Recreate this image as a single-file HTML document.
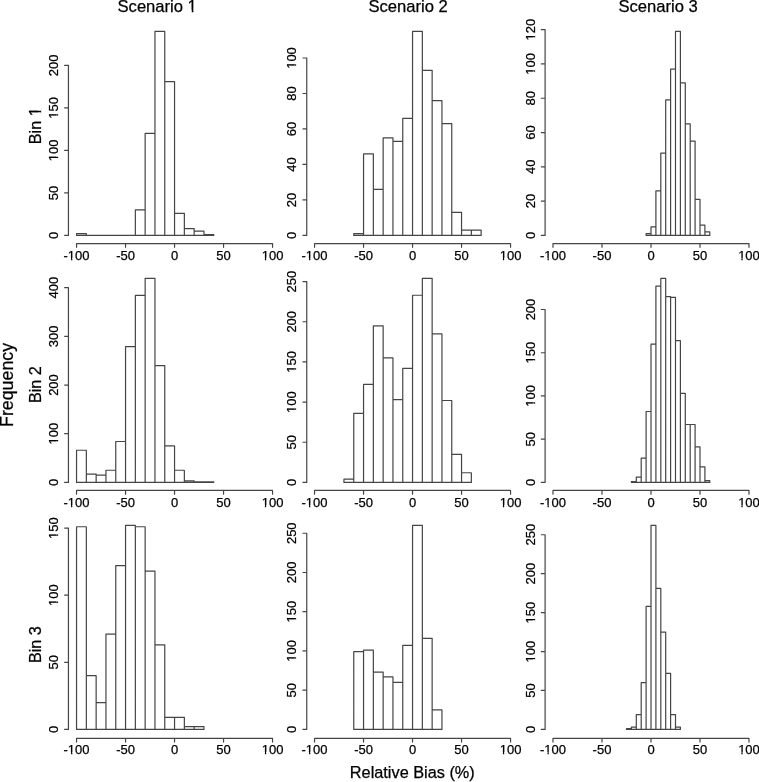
<!DOCTYPE html>
<html><head><meta charset="utf-8"><style>
html,body{margin:0;padding:0;background:#fff;width:759px;height:782px;overflow:hidden}
svg{display:block;will-change:transform}
text{font-family:"Liberation Sans",sans-serif;fill:#000;text-anchor:middle;stroke:#000;stroke-width:0.25px}
.t{font-size:13.0px}
.ti{font-size:16.6px}
.bn{font-size:16.2px}
.fq{font-size:17.8px}
.rb{font-size:16.3px}
.m{fill:#fff}
path{fill:none;stroke:#454545;stroke-width:1.2;stroke-linecap:round;stroke-linejoin:round}
</style></head><body>
<svg width="759" height="782" viewBox="0 0 759 782">
<rect width="759" height="782" fill="#fff"/>
<path d="M76.55 235.4H86.35V233.7H76.55ZM86.35 235.4H96.15V235.4H86.35ZM96.15 235.4H105.95V235.4H96.15ZM105.95 235.4H115.75V235.4H105.95ZM115.75 235.4H125.55V235.4H115.75ZM125.55 235.4H135.35V235.4H125.55ZM135.35 235.4H145.15V209.9H135.35ZM145.15 235.4H154.95V133.4H145.15ZM154.95 235.4H164.75V31.4H154.95ZM164.75 235.4H174.55V81.55H164.75ZM174.55 235.4H184.35V213.3H174.55ZM184.35 235.4H194.15V228.6H184.35ZM194.15 235.4H203.95V231.15H194.15ZM203.95 235.4H213.75V234.55H203.95Z"/>
<path d="M76.55 243.55H272.55M76.55 243.55v3.8M125.55 243.55v3.8M174.55 243.55v3.8M223.55 243.55v3.8M272.55 243.55v3.8M68.45 235.4V65.4M68.45 235.4h-3.8M68.45 192.9h-3.8M68.45 150.4h-3.8M68.45 107.9h-3.8M68.45 65.4h-3.8"/>
<text class="t" x="76.55" y="260">-100</text>
<text class="t" x="125.55" y="260">-50</text>
<text class="t" x="174.55" y="260">0</text>
<text class="t" x="223.55" y="260">50</text>
<text class="t" x="272.55" y="260">100</text>
<text class="t" transform="translate(58.05 235.4) rotate(-90)">0</text>
<text class="t" transform="translate(58.05 192.9) rotate(-90)">50</text>
<text class="t" transform="translate(58.05 150.4) rotate(-90)">100</text>
<text class="t" transform="translate(58.05 107.9) rotate(-90)">150</text>
<text class="t" transform="translate(58.05 65.4) rotate(-90)">200</text>
<path d="M353.75 235.4H363.55V233.63H353.75ZM363.55 235.4H373.35V153.8H363.55ZM373.35 235.4H383.15V189.28H373.35ZM383.15 235.4H392.95V137.83H383.15ZM392.95 235.4H402.75V141.38H392.95ZM402.75 235.4H412.55V118.32H402.75ZM412.55 235.4H422.35V31.4H412.55ZM422.35 235.4H432.15V70.43H422.35ZM432.15 235.4H441.95V100.58H432.15ZM441.95 235.4H451.75V123.64H441.95ZM451.75 235.4H461.55V212.34H451.75ZM461.55 235.4H471.35V230.08H461.55ZM471.35 235.4H481.15V230.08H471.35Z"/>
<path d="M314.55 243.55H510.55M314.55 243.55v3.8M363.55 243.55v3.8M412.55 243.55v3.8M461.55 243.55v3.8M510.55 243.55v3.8M306.75 235.4V58.01M306.75 235.4h-3.8M306.75 199.92h-3.8M306.75 164.44h-3.8M306.75 128.97h-3.8M306.75 93.49h-3.8M306.75 58.01h-3.8"/>
<text class="t" x="314.55" y="260">-100</text>
<text class="t" x="363.55" y="260">-50</text>
<text class="t" x="412.55" y="260">0</text>
<text class="t" x="461.55" y="260">50</text>
<text class="t" x="510.55" y="260">100</text>
<text class="t" transform="translate(296.35 235.4) rotate(-90)">0</text>
<text class="t" transform="translate(296.35 199.92) rotate(-90)">20</text>
<text class="t" transform="translate(296.35 164.44) rotate(-90)">40</text>
<text class="t" transform="translate(296.35 128.97) rotate(-90)">60</text>
<text class="t" transform="translate(296.35 93.49) rotate(-90)">80</text>
<text class="t" transform="translate(296.35 58.01) rotate(-90)">100</text>
<path d="M646.1 235.4H651V233.69H646.1ZM651 235.4H655.9V226.83H651ZM655.9 235.4H660.8V190.83H655.9ZM660.8 235.4H665.7V153.11H660.8ZM665.7 235.4H670.6V99.97H665.7ZM670.6 235.4H675.5V69.11H670.6ZM675.5 235.4H680.4V31.4H675.5ZM680.4 235.4H685.3V82.83H680.4ZM685.3 235.4H690.2V123.97H685.3ZM690.2 235.4H695.1V141.11H690.2ZM695.1 235.4H700V199.4H695.1ZM700 235.4H704.9V225.11H700ZM704.9 235.4H709.8V231.97H704.9Z"/>
<path d="M553 243.55H749M553 243.55v3.8M602 243.55v3.8M651 243.55v3.8M700 243.55v3.8M749 243.55v3.8M545.1 235.4V29.69M545.1 235.4h-3.8M545.1 201.11h-3.8M545.1 166.83h-3.8M545.1 132.54h-3.8M545.1 98.26h-3.8M545.1 63.97h-3.8M545.1 29.69h-3.8"/>
<text class="t" x="553" y="260">-100</text>
<text class="t" x="602" y="260">-50</text>
<text class="t" x="651" y="260">0</text>
<text class="t" x="700" y="260">50</text>
<text class="t" x="749" y="260">100</text>
<text class="t" transform="translate(534.7 235.4) rotate(-90)">0</text>
<text class="t" transform="translate(534.7 201.11) rotate(-90)">20</text>
<text class="t" transform="translate(534.7 166.83) rotate(-90)">40</text>
<text class="t" transform="translate(534.7 132.54) rotate(-90)">60</text>
<text class="t" transform="translate(534.7 98.26) rotate(-90)">80</text>
<text class="t" transform="translate(534.7 63.97) rotate(-90)">100</text>
<text class="t" transform="translate(534.7 29.69) rotate(-90)">120</text>
<path d="M76.55 482.4H86.35V450.27H76.55ZM86.35 482.4H96.15V474.12H86.35ZM96.15 482.4H105.95V475.1H96.15ZM105.95 482.4H115.75V470.23H105.95ZM115.75 482.4H125.55V441.5H115.75ZM125.55 482.4H135.35V346.56H125.55ZM135.35 482.4H145.15V295.44H135.35ZM145.15 482.4H154.95V278.4H145.15ZM154.95 482.4H164.75V365.55H154.95ZM164.75 482.4H174.55V445.88H164.75ZM174.55 482.4H184.35V470.23H174.55ZM184.35 482.4H194.15V480.94H184.35ZM194.15 482.4H203.95V481.91H194.15ZM203.95 482.4H213.75V481.91H203.95Z"/>
<path d="M76.55 490.45H272.55M76.55 490.45v3.8M125.55 490.45v3.8M174.55 490.45v3.8M223.55 490.45v3.8M272.55 490.45v3.8M68.45 482.4V287.65M68.45 482.4h-3.8M68.45 433.71h-3.8M68.45 385.03h-3.8M68.45 336.34h-3.8M68.45 287.65h-3.8"/>
<text class="t" x="76.55" y="507">-100</text>
<text class="t" x="125.55" y="507">-50</text>
<text class="t" x="174.55" y="507">0</text>
<text class="t" x="223.55" y="507">50</text>
<text class="t" x="272.55" y="507">100</text>
<text class="t" transform="translate(58.05 482.4) rotate(-90)">0</text>
<text class="t" transform="translate(58.05 433.71) rotate(-90)">100</text>
<text class="t" transform="translate(58.05 385.03) rotate(-90)">200</text>
<text class="t" transform="translate(58.05 336.34) rotate(-90)">300</text>
<text class="t" transform="translate(58.05 287.65) rotate(-90)">400</text>
<path d="M343.95 482.4H353.75V479.19H343.95ZM353.75 482.4H363.55V413.33H353.75ZM363.55 482.4H373.35V384.42H363.55ZM373.35 482.4H383.15V325.79H373.35ZM383.15 482.4H392.95V357.91H383.15ZM392.95 482.4H402.75V399.68H392.95ZM402.75 482.4H412.55V368.35H402.75ZM412.55 482.4H422.35V295.27H412.55ZM422.35 482.4H432.15V278.4H422.35ZM432.15 482.4H441.95V333.82H432.15ZM441.95 482.4H451.75V400.48H441.95ZM451.75 482.4H461.55V454.29H451.75ZM461.55 482.4H471.35V472.76H461.55Z"/>
<path d="M314.55 490.45H510.55M314.55 490.45v3.8M363.55 490.45v3.8M412.55 490.45v3.8M461.55 490.45v3.8M510.55 490.45v3.8M306.75 482.4V281.61M306.75 482.4h-3.8M306.75 442.24h-3.8M306.75 402.09h-3.8M306.75 361.93h-3.8M306.75 321.77h-3.8M306.75 281.61h-3.8"/>
<text class="t" x="314.55" y="507">-100</text>
<text class="t" x="363.55" y="507">-50</text>
<text class="t" x="412.55" y="507">0</text>
<text class="t" x="461.55" y="507">50</text>
<text class="t" x="510.55" y="507">100</text>
<text class="t" transform="translate(296.35 482.4) rotate(-90)">0</text>
<text class="t" transform="translate(296.35 442.24) rotate(-90)">50</text>
<text class="t" transform="translate(296.35 402.09) rotate(-90)">100</text>
<text class="t" transform="translate(296.35 361.93) rotate(-90)">150</text>
<text class="t" transform="translate(296.35 321.77) rotate(-90)">200</text>
<text class="t" transform="translate(296.35 281.61) rotate(-90)">250</text>
<path d="M631.4 482.4H636.3V481.54H631.4ZM636.3 482.4H641.2V477.21H636.3ZM641.2 482.4H646.1V458.2H641.2ZM646.1 482.4H651V411.52H646.1ZM651 482.4H655.9V344.09H651ZM655.9 482.4H660.8V286.18H655.9ZM660.8 482.4H665.7V278.4H660.8ZM665.7 482.4H670.6V296.55H665.7ZM670.6 482.4H675.5V297.42H670.6ZM675.5 482.4H680.4V340.64H675.5ZM680.4 482.4H685.3V393.37H680.4ZM685.3 482.4H690.2V424.48H685.3ZM690.2 482.4H695.1V424.48H690.2ZM695.1 482.4H700V446.96H695.1ZM700 482.4H704.9V466.84H700ZM704.9 482.4H709.8V480.67H704.9Z"/>
<path d="M553 490.45H749M553 490.45v3.8M602 490.45v3.8M651 490.45v3.8M700 490.45v3.8M749 490.45v3.8M545.1 482.4V309.52M545.1 482.4h-3.8M545.1 439.18h-3.8M545.1 395.96h-3.8M545.1 352.74h-3.8M545.1 309.52h-3.8"/>
<text class="t" x="553" y="507">-100</text>
<text class="t" x="602" y="507">-50</text>
<text class="t" x="651" y="507">0</text>
<text class="t" x="700" y="507">50</text>
<text class="t" x="749" y="507">100</text>
<text class="t" transform="translate(534.7 482.4) rotate(-90)">0</text>
<text class="t" transform="translate(534.7 439.18) rotate(-90)">50</text>
<text class="t" transform="translate(534.7 395.96) rotate(-90)">100</text>
<text class="t" transform="translate(534.7 352.74) rotate(-90)">150</text>
<text class="t" transform="translate(534.7 309.52) rotate(-90)">200</text>
<path d="M76.55 729.4H86.35V526.74H76.55ZM86.35 729.4H96.15V675.72H86.35ZM96.15 729.4H105.95V702.56H96.15ZM105.95 729.4H115.75V634.11H105.95ZM115.75 729.4H125.55V565.66H115.75ZM125.55 729.4H135.35V525.4H125.55ZM135.35 729.4H145.15V526.74H135.35ZM145.15 729.4H154.95V571.03H145.15ZM154.95 729.4H164.75V644.85H154.95ZM164.75 729.4H174.55V717.32H164.75ZM174.55 729.4H184.35V717.32H174.55ZM184.35 729.4H194.15V726.72H184.35ZM194.15 729.4H203.95V726.72H194.15Z"/>
<path d="M76.55 738.3H272.55M76.55 738.3v3.8M125.55 738.3v3.8M174.55 738.3v3.8M223.55 738.3v3.8M272.55 738.3v3.8M68.45 729.4V528.08M68.45 729.4h-3.8M68.45 662.29h-3.8M68.45 595.19h-3.8M68.45 528.08h-3.8"/>
<text class="t" x="76.55" y="754">-100</text>
<text class="t" x="125.55" y="754">-50</text>
<text class="t" x="174.55" y="754">0</text>
<text class="t" x="223.55" y="754">50</text>
<text class="t" x="272.55" y="754">100</text>
<text class="t" transform="translate(58.05 729.4) rotate(-90)">0</text>
<text class="t" transform="translate(58.05 662.29) rotate(-90)">50</text>
<text class="t" transform="translate(58.05 595.19) rotate(-90)">100</text>
<text class="t" transform="translate(58.05 528.08) rotate(-90)">150</text>
<path d="M353.75 729.4H363.55V651.72H353.75ZM363.55 729.4H373.35V650.15H363.55ZM373.35 729.4H383.15V672.12H373.35ZM383.15 729.4H392.95V676.83H383.15ZM392.95 729.4H402.75V682.32H392.95ZM402.75 729.4H412.55V645.45H402.75ZM412.55 729.4H422.35V525.4H412.55ZM422.35 729.4H432.15V638.38H422.35ZM432.15 729.4H441.95V709.78H432.15Z"/>
<path d="M314.55 738.3H510.55M314.55 738.3v3.8M363.55 738.3v3.8M412.55 738.3v3.8M461.55 738.3v3.8M510.55 738.3v3.8M306.75 729.4V533.25M306.75 729.4h-3.8M306.75 690.17h-3.8M306.75 650.94h-3.8M306.75 611.71h-3.8M306.75 572.48h-3.8M306.75 533.25h-3.8"/>
<text class="t" x="314.55" y="754">-100</text>
<text class="t" x="363.55" y="754">-50</text>
<text class="t" x="412.55" y="754">0</text>
<text class="t" x="461.55" y="754">50</text>
<text class="t" x="510.55" y="754">100</text>
<text class="t" transform="translate(296.35 729.4) rotate(-90)">0</text>
<text class="t" transform="translate(296.35 690.17) rotate(-90)">50</text>
<text class="t" transform="translate(296.35 650.94) rotate(-90)">100</text>
<text class="t" transform="translate(296.35 611.71) rotate(-90)">150</text>
<text class="t" transform="translate(296.35 572.48) rotate(-90)">200</text>
<text class="t" transform="translate(296.35 533.25) rotate(-90)">250</text>
<path d="M626.5 729.4H631.4V728.62H626.5ZM631.4 729.4H636.3V727.06H631.4ZM636.3 729.4H641.2V714.61H636.3ZM641.2 729.4H646.1V682.68H641.2ZM646.1 729.4H651V606.38H646.1ZM651 729.4H655.9V525.4H651ZM655.9 729.4H660.8V588.47H655.9ZM660.8 729.4H665.7V632.07H660.8ZM665.7 729.4H670.6V673.34H665.7ZM670.6 729.4H675.5V714.61H670.6ZM675.5 729.4H680.4V727.06H675.5Z"/>
<path d="M553 738.3H749M553 738.3v3.8M602 738.3v3.8M651 738.3v3.8M700 738.3v3.8M749 738.3v3.8M545.1 729.4V534.74M545.1 729.4h-3.8M545.1 690.47h-3.8M545.1 651.54h-3.8M545.1 612.61h-3.8M545.1 573.67h-3.8M545.1 534.74h-3.8"/>
<text class="t" x="553" y="754">-100</text>
<text class="t" x="602" y="754">-50</text>
<text class="t" x="651" y="754">0</text>
<text class="t" x="700" y="754">50</text>
<text class="t" x="749" y="754">100</text>
<text class="t" transform="translate(534.7 729.4) rotate(-90)">0</text>
<text class="t" transform="translate(534.7 690.47) rotate(-90)">50</text>
<text class="t" transform="translate(534.7 651.54) rotate(-90)">100</text>
<text class="t" transform="translate(534.7 612.61) rotate(-90)">150</text>
<text class="t" transform="translate(534.7 573.67) rotate(-90)">200</text>
<text class="t" transform="translate(534.7 534.74) rotate(-90)">250</text>
<text class="ti" x="157.2" y="12">Scenario 1</text>
<text class="bn" transform="translate(40.5 125.8) rotate(-90)">Bin 1</text>
<text class="ti" x="408.1" y="12">Scenario 2</text>
<text class="bn" transform="translate(40.5 384.6) rotate(-90)">Bin 2</text>
<text class="ti" x="658.1" y="12">Scenario 3</text>
<text class="bn" transform="translate(40.5 644.6) rotate(-90)">Bin 3</text>
<text class="fq" transform="translate(12.8 384.95) rotate(-90)">Frequency</text>
<text class="rb" x="412.3" y="778.4">Relative Bias (%)</text>
<rect class="m" x="68" y="258.13" width="3.07" height="2.87"/>
<rect class="m" x="72.36" y="258.13" width="2.68" height="2.87"/>
<rect class="m" x="261.83" y="258.13" width="3.07" height="2.87"/>
<rect class="m" x="266.2" y="258.13" width="2.68" height="2.87"/>
<rect class="m" transform="translate(58.05 150.4) rotate(-90)" x="-10.72" y="-1.87" width="3.07" height="2.87"/>
<rect class="m" transform="translate(58.05 150.4) rotate(-90)" x="-6.35" y="-1.87" width="2.68" height="2.87"/>
<rect class="m" transform="translate(58.05 107.9) rotate(-90)" x="-10.72" y="-1.87" width="3.07" height="2.87"/>
<rect class="m" transform="translate(58.05 107.9) rotate(-90)" x="-6.35" y="-1.87" width="2.68" height="2.87"/>
<rect class="m" x="306" y="258.13" width="3.07" height="2.87"/>
<rect class="m" x="310.36" y="258.13" width="2.68" height="2.87"/>
<rect class="m" x="499.83" y="258.13" width="3.07" height="2.87"/>
<rect class="m" x="504.2" y="258.13" width="2.68" height="2.87"/>
<rect class="m" transform="translate(296.35 58.01) rotate(-90)" x="-10.72" y="-1.87" width="3.07" height="2.87"/>
<rect class="m" transform="translate(296.35 58.01) rotate(-90)" x="-6.35" y="-1.87" width="2.68" height="2.87"/>
<rect class="m" x="544.45" y="258.13" width="3.07" height="2.87"/>
<rect class="m" x="548.81" y="258.13" width="2.68" height="2.87"/>
<rect class="m" x="738.28" y="258.13" width="3.07" height="2.87"/>
<rect class="m" x="742.65" y="258.13" width="2.68" height="2.87"/>
<rect class="m" transform="translate(534.7 63.97) rotate(-90)" x="-10.72" y="-1.87" width="3.07" height="2.87"/>
<rect class="m" transform="translate(534.7 63.97) rotate(-90)" x="-6.35" y="-1.87" width="2.68" height="2.87"/>
<rect class="m" transform="translate(534.7 29.69) rotate(-90)" x="-10.72" y="-1.87" width="3.07" height="2.87"/>
<rect class="m" transform="translate(534.7 29.69) rotate(-90)" x="-6.35" y="-1.87" width="2.68" height="2.87"/>
<rect class="m" x="68" y="505.13" width="3.07" height="2.87"/>
<rect class="m" x="72.36" y="505.13" width="2.68" height="2.87"/>
<rect class="m" x="261.83" y="505.13" width="3.07" height="2.87"/>
<rect class="m" x="266.2" y="505.13" width="2.68" height="2.87"/>
<rect class="m" transform="translate(58.05 433.71) rotate(-90)" x="-10.72" y="-1.87" width="3.07" height="2.87"/>
<rect class="m" transform="translate(58.05 433.71) rotate(-90)" x="-6.35" y="-1.87" width="2.68" height="2.87"/>
<rect class="m" x="306" y="505.13" width="3.07" height="2.87"/>
<rect class="m" x="310.36" y="505.13" width="2.68" height="2.87"/>
<rect class="m" x="499.83" y="505.13" width="3.07" height="2.87"/>
<rect class="m" x="504.2" y="505.13" width="2.68" height="2.87"/>
<rect class="m" transform="translate(296.35 402.09) rotate(-90)" x="-10.72" y="-1.87" width="3.07" height="2.87"/>
<rect class="m" transform="translate(296.35 402.09) rotate(-90)" x="-6.35" y="-1.87" width="2.68" height="2.87"/>
<rect class="m" transform="translate(296.35 361.93) rotate(-90)" x="-10.72" y="-1.87" width="3.07" height="2.87"/>
<rect class="m" transform="translate(296.35 361.93) rotate(-90)" x="-6.35" y="-1.87" width="2.68" height="2.87"/>
<rect class="m" x="544.45" y="505.13" width="3.07" height="2.87"/>
<rect class="m" x="548.81" y="505.13" width="2.68" height="2.87"/>
<rect class="m" x="738.28" y="505.13" width="3.07" height="2.87"/>
<rect class="m" x="742.65" y="505.13" width="2.68" height="2.87"/>
<rect class="m" transform="translate(534.7 395.96) rotate(-90)" x="-10.72" y="-1.87" width="3.07" height="2.87"/>
<rect class="m" transform="translate(534.7 395.96) rotate(-90)" x="-6.35" y="-1.87" width="2.68" height="2.87"/>
<rect class="m" transform="translate(534.7 352.74) rotate(-90)" x="-10.72" y="-1.87" width="3.07" height="2.87"/>
<rect class="m" transform="translate(534.7 352.74) rotate(-90)" x="-6.35" y="-1.87" width="2.68" height="2.87"/>
<rect class="m" x="68" y="752.13" width="3.07" height="2.87"/>
<rect class="m" x="72.36" y="752.13" width="2.68" height="2.87"/>
<rect class="m" x="261.83" y="752.13" width="3.07" height="2.87"/>
<rect class="m" x="266.2" y="752.13" width="2.68" height="2.87"/>
<rect class="m" transform="translate(58.05 595.19) rotate(-90)" x="-10.72" y="-1.87" width="3.07" height="2.87"/>
<rect class="m" transform="translate(58.05 595.19) rotate(-90)" x="-6.35" y="-1.87" width="2.68" height="2.87"/>
<rect class="m" transform="translate(58.05 528.08) rotate(-90)" x="-10.72" y="-1.87" width="3.07" height="2.87"/>
<rect class="m" transform="translate(58.05 528.08) rotate(-90)" x="-6.35" y="-1.87" width="2.68" height="2.87"/>
<rect class="m" x="306" y="752.13" width="3.07" height="2.87"/>
<rect class="m" x="310.36" y="752.13" width="2.68" height="2.87"/>
<rect class="m" x="499.83" y="752.13" width="3.07" height="2.87"/>
<rect class="m" x="504.2" y="752.13" width="2.68" height="2.87"/>
<rect class="m" transform="translate(296.35 650.94) rotate(-90)" x="-10.72" y="-1.87" width="3.07" height="2.87"/>
<rect class="m" transform="translate(296.35 650.94) rotate(-90)" x="-6.35" y="-1.87" width="2.68" height="2.87"/>
<rect class="m" transform="translate(296.35 611.71) rotate(-90)" x="-10.72" y="-1.87" width="3.07" height="2.87"/>
<rect class="m" transform="translate(296.35 611.71) rotate(-90)" x="-6.35" y="-1.87" width="2.68" height="2.87"/>
<rect class="m" x="544.45" y="752.13" width="3.07" height="2.87"/>
<rect class="m" x="548.81" y="752.13" width="2.68" height="2.87"/>
<rect class="m" x="738.28" y="752.13" width="3.07" height="2.87"/>
<rect class="m" x="742.65" y="752.13" width="2.68" height="2.87"/>
<rect class="m" transform="translate(534.7 651.54) rotate(-90)" x="-10.72" y="-1.87" width="3.07" height="2.87"/>
<rect class="m" transform="translate(534.7 651.54) rotate(-90)" x="-6.35" y="-1.87" width="2.68" height="2.87"/>
<rect class="m" transform="translate(534.7 612.61) rotate(-90)" x="-10.72" y="-1.87" width="3.07" height="2.87"/>
<rect class="m" transform="translate(534.7 612.61) rotate(-90)" x="-6.35" y="-1.87" width="2.68" height="2.87"/>
<rect class="m" x="187.81" y="9.86" width="3.91" height="3.14"/>
<rect class="m" x="193.39" y="9.86" width="3.42" height="3.14"/>
<rect class="m" transform="translate(40.5 125.8) rotate(-90)" x="9.61" y="-2.11" width="3.82" height="3.11"/>
<rect class="m" transform="translate(40.5 125.8) rotate(-90)" x="15.05" y="-2.11" width="3.34" height="3.11"/>
</svg>
</body></html>
